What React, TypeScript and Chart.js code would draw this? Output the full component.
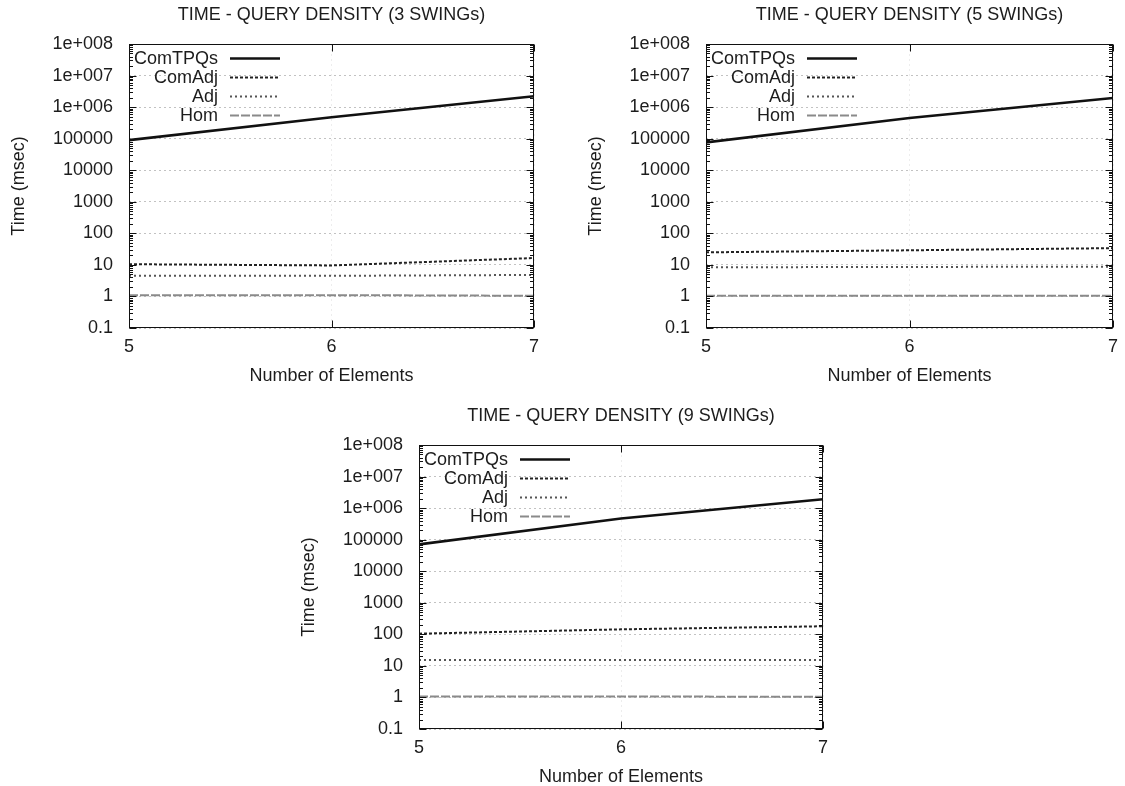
import React, { useEffect, useRef } from "react";
import { Chart, registerables } from "chart.js";

Chart.register(...registerables);

// ---------------- data ----------------
const xValues = [5, 6, 7];
const xTickValues = [5, 6, 7];
const yTickValues = [0.1, 1, 10, 100, 1000, 10000, 100000, 1000000, 10000000, 100000000];
const yTickLabels = ["0.1", "1", "10", "100", "1000", "10000", "100000", "1e+006", "1e+007", "1e+008"];
const seriesNames = ["ComTPQs", "ComAdj", "Adj", "Hom"];

const chartTitles = [
  "TIME - QUERY DENSITY (3 SWINGs)",
  "TIME - QUERY DENSITY (5 SWINGs)",
  "TIME - QUERY DENSITY (9 SWINGs)",
];
const xAxisTitle = "Number of Elements";
const yAxisTitle = "Time (msec)";

// 3 swings
const swings3ComTPQs = [90000, 480000, 2200000];
const swings3ComAdj = [10.5, 9.6, 16.5];
const swings3Adj = [4.5, 4.5, 4.8];
const swings3Hom = [1.1, 1.1, 1.05];
// 5 swings
const swings5ComTPQs = [76000, 450000, 1950000];
const swings5ComAdj = [25, 29, 34];
const swings5Adj = [8.4, 8.6, 8.8];
const swings5Hom = [1.06, 1.06, 1.05];
// 9 swings
const swings9ComTPQs = [71000, 470000, 1900000];
const swings9ComAdj = [105, 144, 180];
const swings9Adj = [15.5, 15.5, 15.5];
const swings9Hom = [1.07, 1.07, 1.05];

// ---------------- styles ----------------
const FONT = "'Liberation Sans', Arial, Helvetica, sans-serif";
const TEXT = "#1c1c1c";
const seriesStyles = [
  { color: "#111111", width: 2.6, dash: [] as number[] },
  { color: "#222222", width: 2, dash: [3, 2] },
  { color: "#555555", width: 2, dash: [2, 3] },
  { color: "#8a8a8a", width: 2, dash: [9, 2] },
];

const AXIS_W = 129;

const framePlugin = {
  id: "gpFrame",
  afterDatasetsDraw(chart: any) {
    const { ctx, chartArea: a, scales } = chart;
    const L = Math.round(a.left) + 0.5;
    const R = Math.round(a.right) - 0.5;
    const T = Math.round(a.top) + 0.5;
    const B = Math.round(a.bottom) - 0.5;
    ctx.save();
    ctx.setLineDash([]);
    ctx.strokeStyle = "#111";
    ctx.lineWidth = 1;
    ctx.beginPath();
    yTickValues.forEach((v) => {
      const y = Math.round(scales.y.getPixelForValue(v)) + 0.5;
      ctx.moveTo(L, y); ctx.lineTo(L + 7, y);
      ctx.moveTo(R, y); ctx.lineTo(R - 7, y);
    });
    for (let i = 0; i < yTickValues.length - 1; i++) {
      for (let k = 2; k <= 9; k++) {
        const y = Math.round(scales.y.getPixelForValue(yTickValues[i] * k)) + 0.5;
        ctx.moveTo(L, y); ctx.lineTo(L + 3.5, y);
        ctx.moveTo(R, y); ctx.lineTo(R - 3.5, y);
      }
    }
    xTickValues.forEach((v) => {
      const x = Math.round(scales.x.getPixelForValue(v)) + 0.5;
      ctx.moveTo(x, B); ctx.lineTo(x, B - 7);
      ctx.moveTo(x, T); ctx.lineTo(x, T + 7);
    });
    ctx.stroke();
    ctx.strokeRect(L, T, R - L, B - T);
    ctx.restore();
  },
};

const legendPlugin = {
  id: "gpLegend",
  afterDatasetsDraw(chart: any) {
    const { ctx, chartArea: a } = chart;
    ctx.save();
    ctx.font = `18px ${FONT}`;
    ctx.textAlign = "right";
    ctx.textBaseline = "middle";
    chart.data.datasets.forEach((ds: any, i: number) => {
      const y = a.top + 14.5 + 19 * i;
      ctx.fillStyle = TEXT;
      ctx.fillText(ds.label, a.left + 89, y + 1);
      ctx.beginPath();
      ctx.strokeStyle = ds.borderColor;
      ctx.lineWidth = ds.borderWidth;
      ctx.setLineDash(ds.borderDash || []);
      ctx.moveTo(a.left + 101, y);
      ctx.lineTo(a.left + 151, y);
      ctx.stroke();
    });
    ctx.restore();
  },
};

type Props = {
  title: string;
  series: number[][];
  left: number;
  top: number;
  width: number;
  height: number;
};

function GnuChart({ title, series, left, top, width, height }: Props) {
  const ref = useRef<HTMLCanvasElement>(null);
  useEffect(() => {
    if (!ref.current) return;
    const font = { family: FONT, size: 18, weight: "normal" as const };
    const chart = new Chart(ref.current, {
      type: "line",
      data: {
        datasets: series.map((vals, i) => ({
          label: seriesNames[i],
          data: xValues.map((x, j) => ({ x, y: vals[j] })),
          borderColor: seriesStyles[i].color,
          borderWidth: seriesStyles[i].width,
          borderDash: seriesStyles[i].dash,
          pointRadius: 0,
          tension: 0,
          fill: false,
        })),
      },
      options: {
        animation: false,
        responsive: false,
        layout: { padding: { left: 0, right: AXIS_W, top: 0, bottom: 0 } },
        plugins: {
          legend: { display: false },
          tooltip: { enabled: false },
          title: {
            display: true,
            text: title,
            color: TEXT,
            font,
            fullSize: false,
            padding: { top: 4, bottom: 18.4 },
          },
        },
        scales: {
          x: {
            type: "linear",
            min: 5,
            max: 7,
            afterBuildTicks: (s: any) => {
              s.ticks = xTickValues.map((v) => ({ value: v }));
            },
            afterFit: (s: any) => {
              s.height = height - 328;
            },
            ticks: {
              color: TEXT,
              font,
              padding: 8,
              maxRotation: 0,
              autoSkip: false,
              callback: (v: any) => String(v),
            },
            grid: { color: "rgba(0,0,0,0.07)", drawTicks: false, lineWidth: 1 },
            border: { display: false, dash: [2, 3] },
            title: {
              display: true,
              text: xAxisTitle,
              color: TEXT,
              font,
              padding: { top: 0, bottom: 5 },
            },
          },
          y: {
            type: "logarithmic",
            min: 0.1,
            max: 100000000,
            afterBuildTicks: (s: any) => {
              s.ticks = yTickValues.map((v) => ({ value: v }));
            },
            afterFit: (s: any) => {
              s.width = AXIS_W;
            },
            ticks: {
              color: TEXT,
              font,
              padding: 16,
              autoSkip: false,
              callback: (_v: any, i: number) => yTickLabels[i],
            },
            grid: { color: "#c2c2c2", drawTicks: false, lineWidth: 1 },
            border: { display: false, dash: [2, 3] },
            title: {
              display: true,
              text: yAxisTitle,
              color: TEXT,
              font,
              padding: { top: 8, bottom: 0 },
            },
          },
        },
      },
      plugins: [framePlugin, legendPlugin],
    } as any);
    return () => chart.destroy();
  }, []);
  return (
    <div style={{ position: "absolute", left, top, width, height }}>
      <canvas ref={ref} width={width} height={height} style={{ display: "block", width, height }} />
    </div>
  );
}

export default function App() {
  return (
    <div
      style={{
        position: "absolute",
        left: 0,
        top: 0,
        width: 1125,
        height: 786,
        overflow: "hidden",
        background: "#fff",
      }}
    >
      <GnuChart
        title={chartTitles[0]}
        series={[swings3ComTPQs, swings3ComAdj, swings3Adj, swings3Hom]}
        left={0}
        top={0}
        width={663}
        height={392}
      />
      <GnuChart
        title={chartTitles[1]}
        series={[swings5ComTPQs, swings5ComAdj, swings5Adj, swings5Hom]}
        left={577}
        top={0}
        width={665}
        height={392}
      />
      <GnuChart
        title={chartTitles[2]}
        series={[swings9ComTPQs, swings9ComAdj, swings9Adj, swings9Hom]}
        left={290}
        top={401}
        width={662}
        height={392}
      />
    </div>
  );
}
